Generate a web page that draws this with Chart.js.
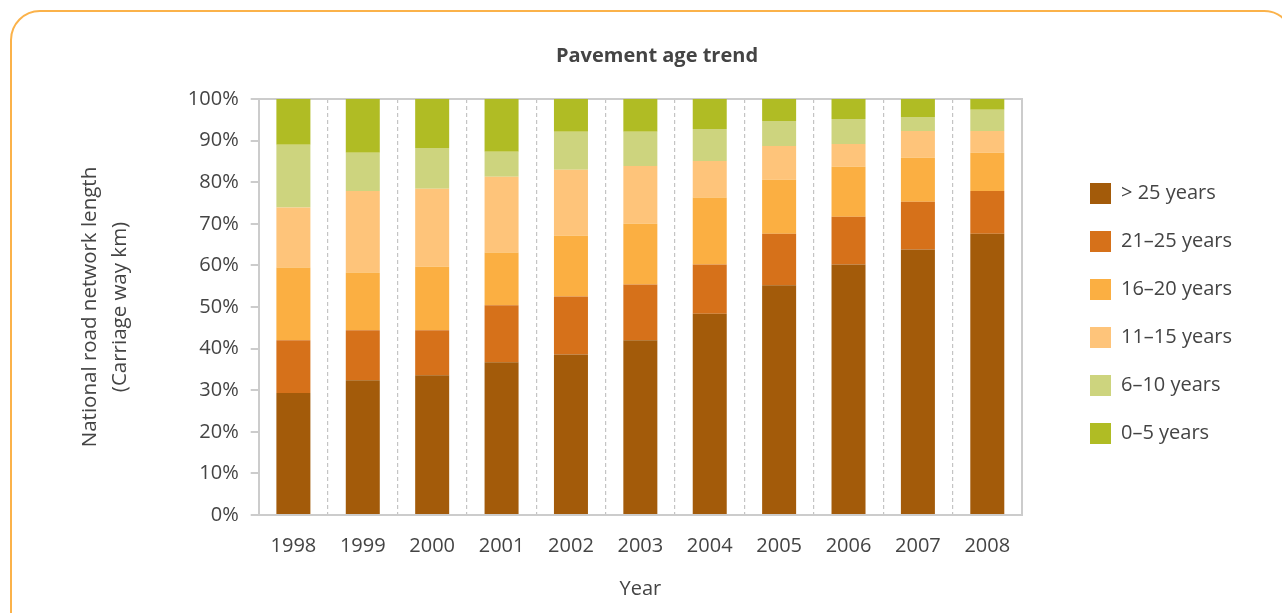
<!DOCTYPE html>
<html>
<head>
<meta charset="utf-8">
<title>Pavement age trend</title>
<script src="https://cdn.jsdelivr.net/npm/chart.js@4/dist/chart.umd.min.js"></script>
<style>
  html, body { margin: 0; padding: 0; background: #fff; overflow: hidden; }
  .frame {
    position: absolute; left: 10px; top: 10px;
    width: 1284px; height: 640px;
    border: 2px solid #fbb24a; border-radius: 30px;
    box-sizing: border-box;
  }
  #wrap { position: absolute; left: 0; top: 0; width: 1282px; height: 613px; }
</style>
</head>
<body>
<div class="frame"></div>
<div id="wrap"><canvas id="ageChart"></canvas></div>
<script>
// Years on the x axis
const years = ['1998', '1999', '2000', '2001', '2002', '2003', '2004', '2005', '2006', '2007', '2008'];

// Share of network (%) per age band
const over25 = [29.3, 32.4, 33.6, 36.7, 38.6, 42.0, 48.4, 55.2, 60.2, 63.8, 67.6];
const y21to25 = [12.7, 12.0, 10.8, 13.7, 13.9, 13.4, 11.8, 12.4, 11.5, 11.5, 10.3];
const y16to20 = [17.5, 13.9, 15.3, 12.7, 14.6, 14.6, 16.1, 13.0, 12.0, 10.6, 9.2];
const y11to15 = [14.4, 19.6, 18.7, 18.2, 15.9, 13.9, 8.8, 8.1, 5.5, 6.4, 5.2];
const y6to10 = [15.1, 9.15, 9.85, 6.0, 9.1, 8.2, 7.7, 6.0, 6.0, 3.4, 5.1];
const y0to5 = [11.0, 12.95, 11.75, 12.7, 7.9, 7.9, 7.2, 5.3, 4.8, 4.3, 2.6];

const yTicks = [0, 10, 20, 30, 40, 50, 60, 70, 80, 90, 100];

const FONT = "'Open Sans', 'Noto Sans', sans-serif";
const TEXT = '#444444';
const AXIS = '#cccccc';

const series = [
  { label: '> 25 years', data: over25, color: '#a35b0a' },
  { label: '21\u201325 years', data: y21to25, color: '#d6711a' },
  { label: '16\u201320 years', data: y16to20, color: '#fbaf42' },
  { label: '11\u201315 years', data: y11to15, color: '#fec47a' },
  { label: '6\u201310 years', data: y6to10, color: '#cdd47e' },
  { label: '0\u20135 years', data: y0to5, color: '#b0bc24' }
];

Chart.defaults.font.family = FONT;
Chart.defaults.color = TEXT;

// lift the legend column a little so it sits where the original has it
const legendNudge = {
  id: 'legendNudge',
  afterLayout(chart) {
    if (chart.legend) {
      chart.legend.top -= 9;
      chart.legend.bottom -= 9;
    }
  }
};

const chart = new Chart(document.getElementById('ageChart'), {
  type: 'bar',
  data: {
    labels: years,
    datasets: series.map(s => ({
      label: s.label,
      data: s.data,
      backgroundColor: s.color,
      borderWidth: 0,
      categoryPercentage: 0.98,
      barPercentage: 0.5
    }))
  },
  plugins: [legendNudge],
  options: {
    responsive: true,
    maintainAspectRatio: false,
    animation: false,
    layout: {
      padding: { left: 72, right: 40, top: 44, bottom: 12 }
    },
    plugins: {
      title: {
        display: true,
        text: 'Pavement age trend',
        color: TEXT,
        font: { size: 20, weight: 'bold' },
        padding: { top: 0, bottom: 31 }
      },
      legend: {
        position: 'right',
        labels: {
          boxWidth: 21,
          boxHeight: 21,
          padding: 27,
          color: TEXT,
          font: { size: 20 }
        }
      },
      tooltip: { enabled: false }
    },
    scales: {
      x: {
        stacked: true,
        offset: true,
        grid: {
          offset: true,
          drawTicks: false,
          lineWidth: 1.2,
          color: (ctx) => (ctx.index === 0 || ctx.index >= years.length) ? 'transparent' : '#c4c4c4'
        },
        border: { display: true, color: AXIS, width: 2, dash: [4, 3] },
        ticks: { padding: 19, color: TEXT, font: { size: 20 } },
        title: {
          display: true,
          text: 'Year',
          color: TEXT,
          font: { size: 20 },
          padding: { top: 0, bottom: 0 }
        }
      },
      y: {
        stacked: true,
        min: 0,
        max: 100,
        afterBuildTicks: (axis) => { axis.ticks = yTicks.map(v => ({ value: v })); },
        grid: {
          drawOnChartArea: true,
          drawTicks: true,
          tickLength: 8,
          tickColor: AXIS,
          lineWidth: 2,
          color: (ctx) => (ctx.tick && ctx.tick.value === 100) ? AXIS : 'transparent'
        },
        border: { display: true, color: AXIS, width: 2 },
        ticks: {
          padding: 12,
          color: TEXT,
          font: { size: 20 },
          callback: (v) => v + '%'
        },
        title: {
          display: true,
          text: ['National road network length', '(Carriage way km)'],
          color: TEXT,
          font: { size: 20.5, lineHeight: 1.46 },
          padding: { top: 3, bottom: 41 }
        }
      },
      // spacer on the right: draws the solid right edge and keeps the legend clear of the bars
      edge: {
        type: 'linear',
        position: 'right',
        display: true,
        grid: { display: false },
        ticks: { display: false },
        border: { display: true, color: AXIS, width: 2 },
        afterFit: (axis) => { axis.width = 41; }
      }
    }
  }
});
</script>
</body>
</html>
